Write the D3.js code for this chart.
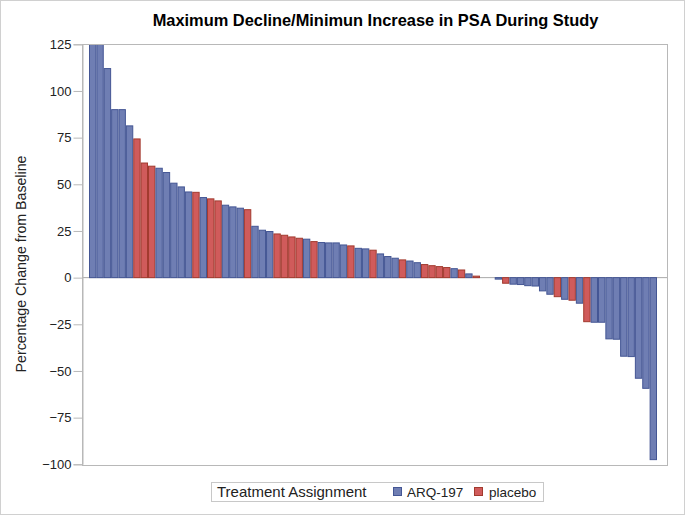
<!DOCTYPE html>
<html><head><meta charset="utf-8">
<script src="https://cdn.jsdelivr.net/npm/d3@7/dist/d3.min.js"></script>
<style>body{margin:0;background:#fff}svg{display:block}text{font-family:"Liberation Sans",Arial,sans-serif}</style>
</head><body><svg id="c" width="685" height="515"></svg>
<script>
const values = [140,130,112.0,90.0,90.0,81.3,74.3,61.4,59.7,58.6,56.3,50.6,48.6,45.9,45.7,42.9,42.2,41.1,38.8,37.9,37.2,36.4,27.5,25.4,24.7,23.4,22.7,21.8,21.1,20.6,19.3,18.8,18.6,18.6,17.5,17.0,15.7,15.4,14.7,12.7,11.3,10.4,9.5,8.9,8.0,7.0,6.4,5.9,5.4,4.8,4.1,2.0,0.8,0,0,-0.8,-3.0,-3.5,-3.7,-4.3,-4.5,-7.1,-8.9,-10.2,-11.6,-12.1,-13.7,-23.6,-23.9,-23.9,-32.8,-33.0,-42.1,-42.3,-53.9,-59.3,-97.5];
const groups = ["A","A","A","A","A","A","P","P","P","A","A","A","A","A","P","A","P","P","A","A","A","P","A","A","A","P","P","P","P","A","P","A","A","A","A","P","A","A","P","A","A","A","P","A","A","P","P","P","P","A","P","A","P","A","A","A","P","A","A","A","A","A","A","P","A","P","A","P","A","A","A","A","A","A","A","A","A"];
const groupNames = {A:"ARQ-197", P:"placebo"};
const legendOrder = ["A","P"];
const yTicks = [-100,-75,-50,-25,0,25,50,75,100,125];
const title = "Maximum Decline/Minimun Increase in PSA During Study";
const yLabel = "Percentage Change from Baseline";
const legendTitle = "Treatment Assignment";

const fills = {A:"#6F7EB3", P:"#D05B5B"};
const strokes = {A:"#445694", P:"#A23A2E"};

const svg = d3.select("#c");
svg.append("rect").attr("x",0.5).attr("y",0.5).attr("width",684).attr("height",514)
  .attr("fill","#fff").attr("stroke","#d0d0d0");

const frame = {l:82, r:667, t:44, b:465};
const x = d3.scaleBand().domain(d3.range(values.length)).range([89, 657]).padding(0);
const y = d3.scaleLinear().domain([-100,125]).range([464.3, 44.3]);

svg.append("defs").append("clipPath").attr("id","clip")
  .append("rect").attr("x",frame.l).attr("y",frame.t).attr("width",frame.r-frame.l).attr("height",frame.b-frame.t);

// zero reference line
svg.append("line").attr("x1",frame.l).attr("x2",frame.r).attr("y1",y(0)).attr("y2",y(0))
  .attr("stroke","#a8a8a8").attr("stroke-width",1);

svg.append("g").attr("clip-path","url(#clip)")
  .selectAll("rect").data(values).join("rect")
  .attr("x",(d,i)=>x(i)+0.5)
  .attr("width",x.bandwidth()-1)
  .attr("y",d=>y(Math.max(0,d)))
  .attr("height",d=>Math.abs(y(d)-y(0)))
  .attr("fill",(d,i)=>fills[groups[i]])
  .attr("stroke",(d,i)=>strokes[groups[i]])
  .attr("stroke-width",1);

// frame
svg.append("rect").attr("x",frame.l+0.5).attr("y",frame.t+0.5).attr("width",frame.r-frame.l).attr("height",frame.b-frame.t)
  .attr("fill","none").attr("stroke","#b8b8b8");

// y axis
const ax = svg.append("g").attr("transform",`translate(${frame.l+0.5},0)`)
  .call(d3.axisLeft(y).tickValues(yTicks).tickSize(9).tickPadding(2));
ax.select(".domain").attr("stroke","#b8b8b8");
ax.selectAll(".tick line").attr("stroke","#b8b8b8");
ax.selectAll(".tick text").attr("font-size",13).attr("fill","#222").attr("font-family","Liberation Sans, Arial, sans-serif");

svg.append("text").attr("transform","translate(26,264) rotate(-90)").attr("text-anchor","middle")
  .attr("font-size",14.2).attr("fill","#222").text(yLabel);

svg.append("text").attr("x",375.5).attr("y",26).attr("text-anchor","middle")
  .attr("font-size",16.4).attr("font-weight","bold").attr("fill","#000").text(title);

// legend
const lg = svg.append("g");
lg.append("rect").attr("x",211.5).attr("y",482.5).attr("width",332).attr("height",19)
  .attr("fill","#fff").attr("stroke","#c8c8c8");
lg.append("text").attr("x",217).attr("y",497).attr("font-size",15).attr("fill","#222").text(legendTitle);
const items = [{k:"A",sx:393,tx:407},{k:"P",sx:474,tx:489}];
items.forEach(it=>{
  lg.append("rect").attr("x",it.sx+0.5).attr("y",487.5).attr("width",8).attr("height",8)
    .attr("fill",fills[it.k]).attr("stroke",strokes[it.k]);
  lg.append("text").attr("x",it.tx).attr("y",497).attr("font-size",13.5).attr("fill","#222").text(groupNames[it.k]);
});
</script></body></html>
